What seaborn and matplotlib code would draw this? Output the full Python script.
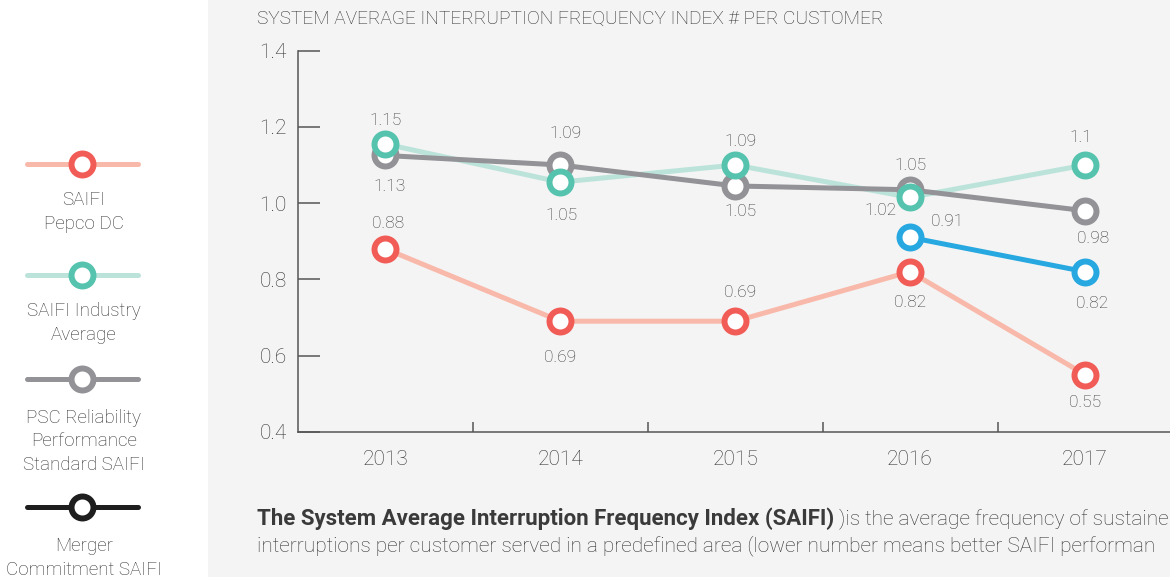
import numpy as np
import pandas as pd
import matplotlib
matplotlib.use("Agg")
import matplotlib.pyplot as plt
import seaborn as sns
from matplotlib.patches import Rectangle

# ---------------- data ----------------
years = ["2013", "2014", "2015", "2016", "2017"]
pepco = [0.88, 0.69, 0.69, 0.82, 0.55]
industry = [1.155, 1.055, 1.10, 1.015, 1.10]
psc = [1.125, 1.10, 1.045, 1.035, 0.98]
merger_years = ["2016", "2017"]
merger = [0.91, 0.82]

pepco_labels = ["0.88", "0.69", "0.69", "0.82", "0.55"]
industry_labels = ["1.15", "1.05", "1.09", "1.02", "1.1"]
psc_labels = ["1.13", "1.09", "1.05", "1.05", "0.98"]
merger_labels = ["0.91", "0.82"]

y_ticks = [0.4, 0.6, 0.8, 1.0, 1.2, 1.4]
legend_labels = ["SAIFI\nPepco DC", "SAIFI Industry\nAverage",
                 "PSC Reliability\nPerformance\nStandard SAIFI",
                 "Merger\nCommitment SAIFI"]
title = "SYSTEM AVERAGE INTERRUPTION FREQUENCY INDEX # PER CUSTOMER"
note_bold = "The System Average Interruption Frequency Index (SAIFI)"
note_rest1 = " )is the average frequency of sustaine"
note_line2 = "interruptions per customer served in a predefined area (lower number means better SAIFI performan"

# ---------------- style ----------------
sns.set_theme(style="white")
plt.rcParams["font.family"] = ["Roboto", "DejaVu Sans"]
plt.rcParams["font.weight"] = "light"

W, H = 1170, 577
fig = plt.figure(figsize=(W / 100, H / 100), dpi=100)
fig.patch.set_facecolor("white")
fig.patches.append(Rectangle((208 / W, 0), 1, 1, transform=fig.transFigure,
                             facecolor="#f4f4f4", edgecolor="none", zorder=-5))

ax = fig.add_axes([298 / W, (H - 431.7) / H, 874.4 / W, 381 / H])
ax.set_facecolor("none")

series = [
    # name, values, x labels, line color, marker color, label texts, label offsets (px: dx, dy-down)
    ("pepco", pepco, years, "#f9b9aa", "#f15c56", pepco_labels,
     [(3, -25), (0, 36), (5, -29), (0, 31), (0, 28)]),
    ("industry", industry, years, "#bce3da", "#56c3ae", industry_labels,
     [(0, -24), (1, 33), (5, -23), (-30, 13), (-4, -27)]),
    ("psc", psc, years, "#929297", "#929297", psc_labels,
     [(4, 31), (5, -31), (5, 26), (0, -24), (8, 28)]),
    ("merger", merger, merger_years, "#28a8e0", "#28a8e0", merger_labels,
     [(37, -16), (7, 32)]),
]

line_z = {"pepco": 2, "industry": 2.1, "psc": 2.2, "merger": 2.3}
mark_z = {"pepco": 3, "psc": 3.1, "industry": 3.2, "merger": 3.3}

MS = 250      # marker area (pt^2)
MEW = 4.3     # marker edge width (pt)
LW = 3.6

for name, vals, xs, lc, mc, labs, offs in series:
    xpos = [years.index(x) for x in xs]
    df = pd.DataFrame({"x": xpos, "y": vals})
    sns.lineplot(data=df, x="x", y="y", color=lc, linewidth=LW, ax=ax,
                 legend=False, zorder=line_z[name])
    sns.scatterplot(data=df, x="x", y="y", s=MS, color="white", edgecolor=mc,
                    linewidth=MEW, ax=ax, legend=False, zorder=mark_z[name])
    for xp, v, t, (dx, dy) in zip(xpos, vals, labs, offs):
        ax.annotate(t, (xp, v), xytext=(dx, -dy), textcoords="offset pixels",
                    ha="center", va="center", fontsize=12.5, color="#3a3a3a",
                    zorder=5)

ax.set_xlabel("")
ax.set_ylabel("")
ax.set_xlim(-0.5, 4.5)
ax.set_ylim(0.4, 1.4)

ax.set_xticks([0.5, 1.5, 2.5, 3.5, 4.5])
ax.set_xticklabels([])
ax.set_xticks(range(len(years)), minor=True)
ax.set_xticklabels(years, minor=True)
ax.tick_params(axis="x", which="major", direction="in", length=7, width=1.1,
               color="#555555", bottom=True)
ax.tick_params(axis="x", which="minor", length=0, pad=13.5, labelsize=15,
               labelcolor="#333333", bottom=True)

ax.set_yticks(y_ticks)
ax.set_yticklabels([f"{v:.1f}" for v in y_ticks])
ax.tick_params(axis="y", direction="in", length=15.8, width=1.1, pad=8,
               labelsize=15, labelcolor="#333333", color="#555555", left=True)

for s in ["top", "right"]:
    ax.spines[s].set_visible(False)
for s in ["left", "bottom"]:
    ax.spines[s].set_color("#555555")
    ax.spines[s].set_linewidth(1.1)
ax.grid(False)

# ---------------- title & notes ----------------
fig.text(257 / W, 1 - 18.5 / H, title, fontsize=13.8, color="#2e2e2e",
         ha="left", va="center")

fig.canvas.draw()
renderer = fig.canvas.get_renderer()
tb = fig.text(257 / W, 1 - 519 / H, note_bold, fontsize=16, color="#3a3a3a",
              fontweight="bold", ha="left", va="center")
bb = tb.get_window_extent(renderer=renderer)
fig.text(bb.x1 / W, 1 - 519 / H, note_rest1, fontsize=15, color="#333333",
         ha="left", va="center")
fig.text(257 / W, 1 - 546 / H, note_line2, fontsize=15, color="#333333",
         ha="left", va="center")

# ---------------- left legend ----------------
lax = fig.add_axes([0, 0, 208 / W, 1])
lax.set_xlim(0, 208)
lax.set_ylim(H, 0)
lax.axis("off")

leg_colors = [("#f9b9aa", "#f15c56"), ("#bce3da", "#56c3ae"),
              ("#929297", "#929297"), ("#1e1e1e", "#1e1e1e")]
leg_line_y = [164, 275, 379, 507]
leg_text_y = [212, 323, 441.5, 558]
for (lc, mc), ly, ty, lab in zip(leg_colors, leg_line_y, leg_text_y, legend_labels):
    sns.lineplot(x=[27, 138], y=[ly, ly], color=lc, linewidth=LW, ax=lax,
                 legend=False, zorder=2)
    sns.scatterplot(x=[82], y=[ly], s=MS, color="white", edgecolor=mc,
                    linewidth=MEW, ax=lax, legend=False, zorder=3)
    lax.text(84, ty, lab, ha="center", va="center", fontsize=13.5,
             color="#333333", linespacing=1.4)
lax.set_xlim(0, 208)
lax.set_ylim(H, 0)

fig.savefig("out.png", dpi=100, facecolor=fig.get_facecolor())
